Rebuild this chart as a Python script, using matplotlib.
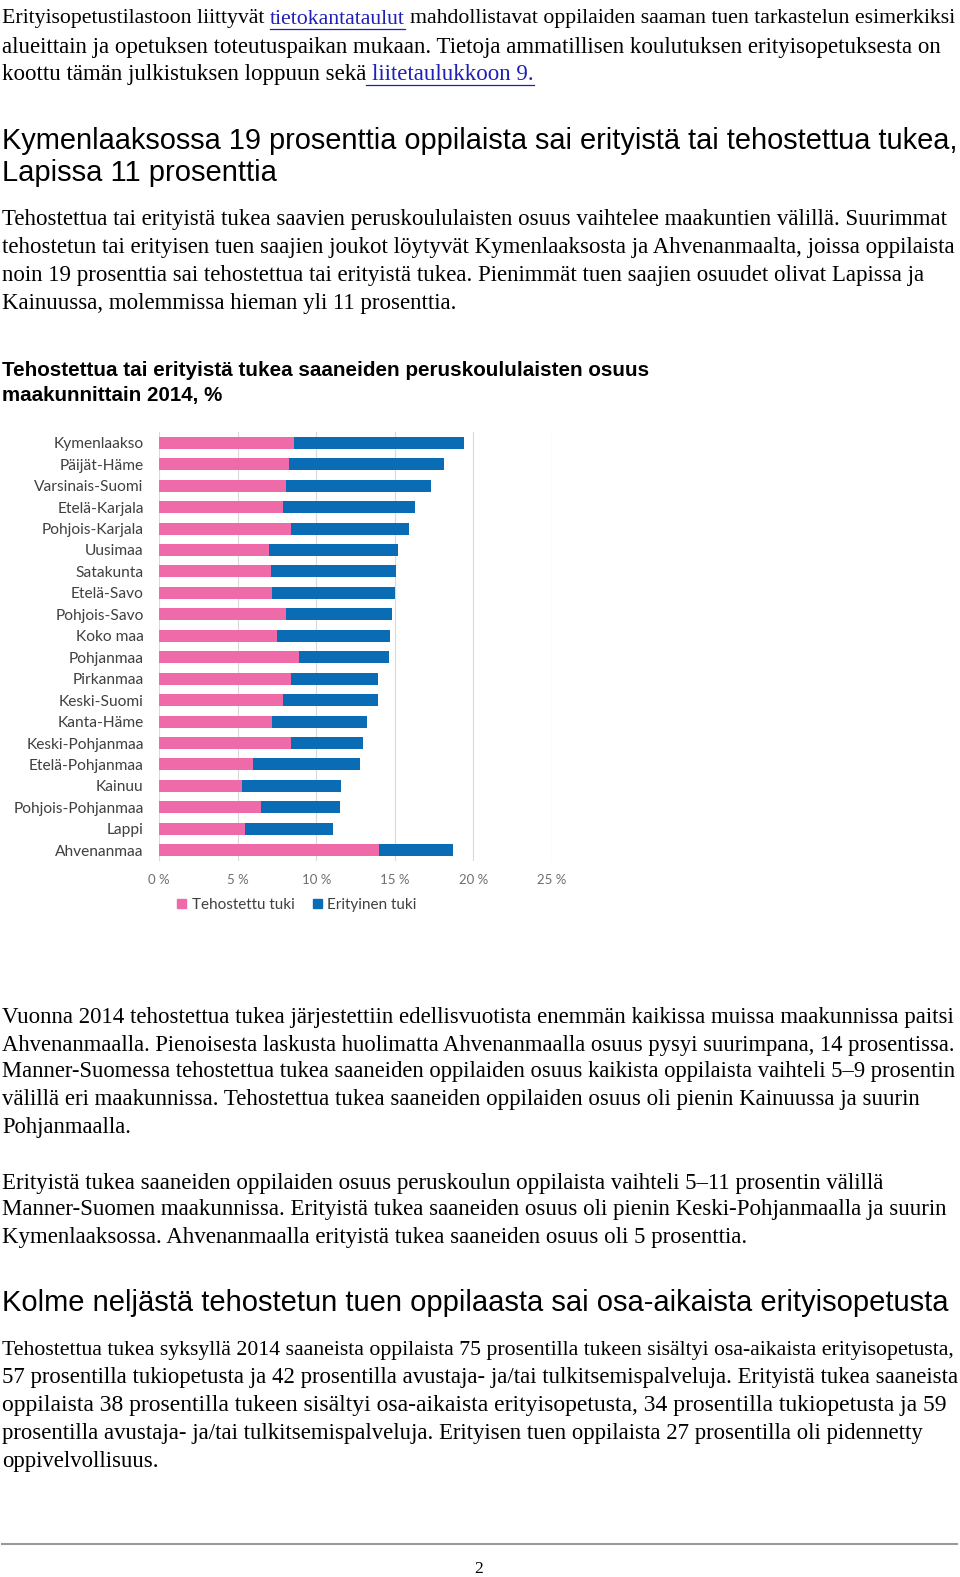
import matplotlib
matplotlib.use('Agg')
import matplotlib.pyplot as plt
from matplotlib.lines import Line2D
from matplotlib.patches import Patch
import numpy as np

# data
maakunnat = ['Kymenlaakso', 'Päijät-Häme', 'Varsinais-Suomi', 'Etelä-Karjala',
             'Pohjois-Karjala', 'Uusimaa', 'Satakunta', 'Etelä-Savo',
             'Pohjois-Savo', 'Koko maa', 'Pohjanmaa', 'Pirkanmaa',
             'Keski-Suomi', 'Kanta-Häme', 'Keski-Pohjanmaa', 'Etelä-Pohjanmaa',
             'Kainuu', 'Pohjois-Pohjanmaa', 'Lappi', 'Ahvenanmaa']
tehostettu = [8.6, 8.3, 8.1, 7.9, 8.4, 7.0, 7.1, 7.2, 8.1, 7.5,
              8.9, 8.4, 7.9, 7.2, 8.4, 6.0, 5.3, 6.5, 5.5, 14.0]
erityinen = [10.8, 9.8, 9.2, 8.4, 7.5, 8.2, 8.0, 7.8, 6.7, 7.2,
             5.7, 5.5, 6.0, 6.0, 4.6, 6.8, 6.3, 5.0, 5.6, 4.7]
xticks = [0, 5, 10, 15, 20, 25]
xticklabels = ['0 %', '5 %', '10 %', '15 %', '20 %', '25 %']
sarjat = ['Tehostettu tuki', 'Erityinen tuki']

kappale1 = ['Erityisopetustilastoon liittyvät tietokantataulut mahdollistavat oppilaiden saaman tuen tarkastelun esimerkiksi',
            'alueittain ja opetuksen toteutuspaikan mukaan. Tietoja ammatillisen koulutuksen erityisopetuksesta on',
            'koottu tämän julkistuksen loppuun sekä liitetaulukkoon 9.']
otsikko1 = ['Kymenlaaksossa 19 prosenttia oppilaista sai erityistä tai tehostettua tukea,',
            'Lapissa 11 prosenttia']
kappale2 = ['Tehostettua tai erityistä tukea saavien peruskoululaisten osuus vaihtelee maakuntien välillä. Suurimmat',
            'tehostetun tai erityisen tuen saajien joukot löytyvät Kymenlaaksosta ja Ahvenanmaalta, joissa oppilaista',
            'noin 19 prosenttia sai tehostettua tai erityistä tukea. Pienimmät tuen saajien osuudet olivat Lapissa ja',
            'Kainuussa, molemmissa hieman yli 11 prosenttia.']
kuvaotsikko = ['Tehostettua tai erityistä tukea saaneiden peruskoululaisten osuus',
               'maakunnittain 2014, %']
kappale3 = ['Vuonna 2014 tehostettua tukea järjestettiin edellisvuotista enemmän kaikissa muissa maakunnissa paitsi',
            'Ahvenanmaalla. Pienoisesta laskusta huolimatta Ahvenanmaalla osuus pysyi suurimpana, 14 prosentissa.',
            'Manner-Suomessa tehostettua tukea saaneiden oppilaiden osuus kaikista oppilaista vaihteli 5–9 prosentin',
            'välillä eri maakunnissa. Tehostettua tukea saaneiden oppilaiden osuus oli pienin Kainuussa ja suurin',
            'Pohjanmaalla.']
kappale4 = ['Erityistä tukea saaneiden oppilaiden osuus peruskoulun oppilaista vaihteli 5–11 prosentin välillä',
            'Manner-Suomen maakunnissa. Erityistä tukea saaneiden osuus oli pienin Keski-Pohjanmaalla ja suurin',
            'Kymenlaaksossa. Ahvenanmaalla erityistä tukea saaneiden osuus oli 5 prosenttia.']
otsikko2 = ['Kolme neljästä tehostetun tuen oppilaasta sai osa-aikaista erityisopetusta']
kappale5 = ['Tehostettua tukea syksyllä 2014 saaneista oppilaista 75 prosentilla tukeen sisältyi osa-aikaista erityisopetusta,',
            '57 prosentilla tukiopetusta ja 42 prosentilla avustaja- ja/tai tulkitsemispalveluja. Erityistä tukea saaneista',
            'oppilaista 38 prosentilla tukeen sisältyi osa-aikaista erityisopetusta, 34 prosentilla tukiopetusta ja 59',
            'prosentilla avustaja- ja/tai tulkitsemispalveluja. Erityisen tuen oppilaista 27 prosentilla oli pidennetty',
            'oppivelvollisuus.']

W, H = 960, 1577
fig = plt.figure(figsize=(W / 100, H / 100), dpi=100)
renderer = fig.canvas.get_renderer()
serif = 'Liberation Serif'
sans = 'Liberation Sans'
link = '#1f1fb8'
dy = 3

def fx(x):
    return x / W

def fy(y):
    return 1 - (y + dy) / H

def width(s, family, size, weight='normal'):
    t = fig.text(0, 0, s, family=family, size=size, weight=weight)
    w = t.get_window_extent(renderer).width
    t.remove()
    return w

def sizes_for(lines, ends, family, weight='normal'):
    s = np.array([20 * (e - 2) / width(l, family, 20, weight) for l, e in zip(lines, ends)])
    m = np.median(s)
    return np.clip(s, m * 0.92, m * 1.08)

def block(lines, ys, ends, family, weight='normal', x=2):
    for s, y, size in zip(lines, ys, sizes_for(lines, ends, family, weight)):
        fig.text(fx(x), fy(y), s, family=family, size=size, weight=weight,
                 va='center', ha='left', color='black')

def underline(x0, x1, y):
    fig.add_artist(Line2D([fx(x0), fx(x1)], [fy(y), fy(y)], color=link, lw=0.9,
                          transform=fig.transFigure))

# ensimmäinen kappale linkkeineen
k1 = sizes_for(kappale1, [957, 940, 532], serif)

def segments(parts, y, size):
    space = width('a a', serif, size) - width('aa', serif, size)
    x = 2
    for s, col, ul in parts:
        # linkin alleviivaus alkaa edeltävästä välilyönnistä
        start = x - space if s.startswith(' ') else x
        t = fig.text(fx(x), fy(y), s.strip(), family=serif, size=size,
                     va='center', ha='left', color=col)
        x += t.get_window_extent(renderer).width
        if ul:
            underline(start, x, y + 10)
        x += space

segments([('Erityisopetustilastoon liittyvät', 'black', False),
          ('tietokantataulut', link, True),
          ('mahdollistavat oppilaiden saaman tuen tarkastelun esimerkiksi', 'black', False)], 16, k1[0])
fig.text(fx(2), fy(44), kappale1[1], family=serif, size=k1[1], va='center', ha='left')
segments([('koottu tämän julkistuksen loppuun sekä', 'black', False),
          (' liitetaulukkoon 9.', link, True)], 71.5, k1[2])

block(otsikko1, [138, 170], [957, 276], sans)
block(kappale2, [217, 244, 272, 300], [946, 955, 924, 457], serif)
block(kuvaotsikko, [368, 393], [648, 222], sans, 'bold')
block(kappale3, [1014, 1042, 1069, 1096, 1124], [953, 957, 957, 919, 131], serif)
block(kappale4, [1180, 1207, 1235], [884, 946, 747], serif)
block(otsikko2, [1300], [947], sans)
block(kappale5, [1348, 1375, 1403, 1430, 1458], [957, 957, 945, 923, 158], serif)

fig.add_artist(Line2D([fx(2), fx(957)], [1 - 1544 / H, 1 - 1544 / H], color='#9a9a9a', lw=1.5,
                      transform=fig.transFigure))
fig.text(fx(479), 0.0, '2', family=serif, size=12.5, ha='center', va='bottom')

# kaavio
pink = '#EF6AA8'
blue = '#0A6CB5'
ax = fig.add_axes([fx(159), 1 - 861 / H, fx(552 - 159), (861 - 432) / H])
y = range(len(maakunnat))
ax.barh(y, tehostettu, height=0.56, color=pink, zorder=2)
ax.barh(y, erityinen, left=tehostettu, height=0.56, color=blue, zorder=2)
ax.set_ylim(len(maakunnat) - 0.5, -0.5)
ax.set_xlim(0, 25)
ax.set_xticks(xticks)
ax.set_xticklabels(xticklabels, family='Lato', size=9.5, color='#6e6e6e')
ax.set_yticks(list(y))
ax.set_yticklabels(maakunnat, family='Lato', size=11.2, color='#404040')
ax.tick_params(length=0)
ax.tick_params(axis='y', pad=11)
ax.tick_params(axis='x', pad=9)
ax.grid(axis='x', color='#d9d9d9', lw=0.8, zorder=0)
for sp in ax.spines.values():
    sp.set_visible(False)

handles = [Patch(color=pink), Patch(color=blue)]
fig.legend(handles, sarjat, loc='center', bbox_to_anchor=(fx(297), 1 - 905 / H), ncol=2,
           frameon=False, handlelength=0.6, handleheight=0.6, handletextpad=0.35,
           columnspacing=1.2, prop={'family': 'Lato', 'size': 11.0}, labelcolor='#404040')

fig.savefig('out.png', dpi=100)
